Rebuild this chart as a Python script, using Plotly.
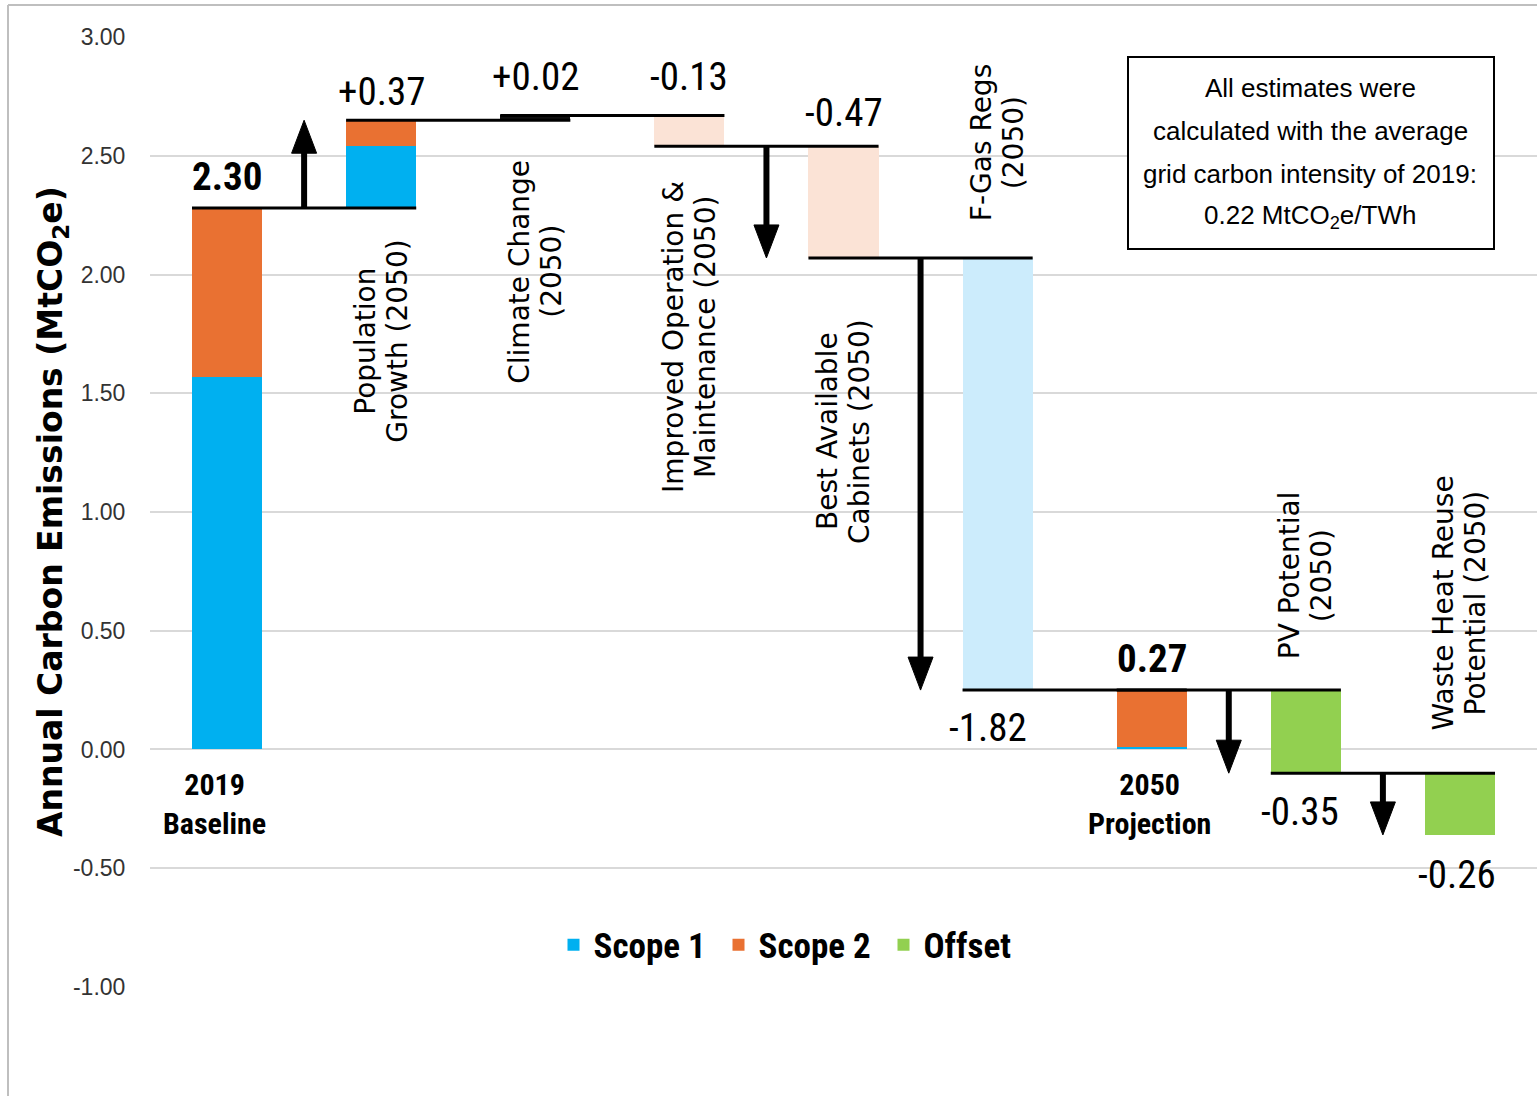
import plotly.graph_objects as go

# ---------------- data ----------------
categories = ["2019 Baseline", "Population Growth (2050)", "Climate Change (2050)",
              "Improved Operation & Maintenance (2050)", "Best Available Cabinets (2050)",
              "F-Gas Regs (2050)", "2050 Projection", "PV Potential (2050)",
              "Waste Heat Reuse Potential (2050)"]
is_total = [True, False, False, False, False, False, True, False, False]
scope1 = [1.57, 0.26, 0, 0, 0, 0, 0.01, 0, 0]
scope2 = [0.71, 0.11, 0, 0, 0, 0, 0.24, 0, 0]
measures = [0, 0, 0.02, -0.13, -0.47, -1.82, 0, 0, 0]
offset = [0, 0, 0, 0, 0, 0, 0, -0.35, -0.26]
value_labels = ["2.30", "+0.37", "+0.02", "-0.13", "-0.47", "-1.82", "0.27", "-0.35", "-0.26"]
arrow_bars = [1, 4, 5, 7, 8]
y_ticks = [-1.0, -0.5, 0.0, 0.5, 1.0, 1.5, 2.0, 2.5, 3.0]
y_ticktext = ["-1.00", "-0.50", "0.00", "0.50", "1.00", "1.50", "2.00", "2.50", "3.00"]

cat_labels = {
    1: ["Population", "Growth (2050)"],
    2: ["Climate Change", "(2050)"],
    3: ["Improved Operation &", "Maintenance (2050)"],
    4: ["Best Available", "Cabinets (2050)"],
    5: ["F-Gas Regs", "(2050)"],
    7: ["PV Potential", "(2050)"],
    8: ["Waste Heat Reuse", "Potential (2050)"],
}
total_labels = {0: "2019<br>Baseline", 6: "2050<br>Projection"}
note_lines = ["All estimates were", "calculated with the average",
              "grid carbon intensity of 2019:", "0.22 MtCO<sub>2</sub>e/TWh"]

# ---------------- styles ----------------
W, H = 1537, 1096
ML, MR, MT, MB = 150, 0, 37, 109
PW, PH = W - ML - MR, H - MT - MB
YMIN, YMAX = -1.0, 3.0
n = len(categories)
PXX = n / PW             # data units per px (x)
PXY = (YMAX - YMIN) / PH  # data units per px (y)
BW = 0.455
C_S1, C_S2, C_OFF = "#00B0F0", "#E97132", "#92D050"
measure_colors = {2: "#111111", 3: "#FBE3D6", 4: "#FBE3D6", 5: "#CCECFC"}
NARROW = "Liberation Sans Narrow, Arial Narrow, Roboto Condensed, DejaVu Sans Condensed, sans-serif"
REG = "Liberation Sans, Arial, sans-serif"
WIDE = "DejaVu Sans, Verdana, sans-serif"

# value label placement: side and pixel offset
label_side = ["above", "above", "above", "above", "above", "below", "above", "below", "below"]
label_shift = [31, 28, 38, 38, 33, -38, 31, -39, -40]
label_xshift = [0, 0, 0, 0, 0, -10, 0, -6, -3]
label_bold = [True, False, False, False, False, False, True, False, False]
cat_label_y = {1: 1.718, 2: 2.013, 3: 1.739, 4: 1.339, 5: 2.556, 7: 0.733, 8: 0.619}

# ---------------- waterfall levels ----------------
start, end = [], []
level = 0.0
for i in range(n):
    s = 0.0 if is_total[i] else level
    e = s + scope1[i] + scope2[i] + measures[i] + offset[i]
    start.append(s)
    end.append(e)
    level = e

fig = go.Figure()

idx1 = [i for i in range(n) if scope1[i]]
fig.add_trace(go.Bar(name="Scope 1", x=idx1, y=[scope1[i] for i in idx1],
                     base=[start[i] for i in idx1], width=BW,
                     marker=dict(color=C_S1, line=dict(width=0)),
                     customdata=[categories[i] for i in idx1],
                     hovertemplate="%{customdata}<br>Scope 1: %{y:.2f}<extra></extra>"))
idx2 = [i for i in range(n) if scope2[i]]
fig.add_trace(go.Bar(name="Scope 2", x=idx2, y=[scope2[i] for i in idx2],
                     base=[start[i] + scope1[i] for i in idx2], width=BW,
                     marker=dict(color=C_S2, line=dict(width=0)),
                     customdata=[categories[i] for i in idx2],
                     hovertemplate="%{customdata}<br>Scope 2: %{y:.2f}<extra></extra>"))
idx3 = [i for i in range(n) if offset[i]]
fig.add_trace(go.Bar(name="Offset", x=idx3, y=[offset[i] for i in idx3],
                     base=[start[i] for i in idx3], width=BW,
                     marker=dict(color=C_OFF, line=dict(width=0)),
                     customdata=[categories[i] for i in idx3],
                     hovertemplate="%{customdata}<br>Offset: %{y:.2f}<extra></extra>"))
idx4 = [i for i in range(n) if measures[i]]
fig.add_trace(go.Bar(name="Change", x=idx4, y=[measures[i] for i in idx4],
                     base=[start[i] for i in idx4], width=BW, showlegend=False,
                     marker=dict(color=[measure_colors[i] for i in idx4], line=dict(width=0)),
                     customdata=[categories[i] for i in idx4],
                     hovertemplate="%{customdata}<br>%{y:.2f}<extra></extra>"))

shapes = []
# connectors
for i in range(n - 1):
    shapes.append(dict(type="line", xref="x", yref="y", x0=i - BW / 2, x1=i + 1 + BW / 2,
                       y0=end[i], y1=end[i], line=dict(color="black", width=3), layer="above"))
# arrows
head_len = 33 * PXY
head_hw = 12.5 * PXX
for i in arrow_bars:
    xa = i - 0.5
    s, e = start[i], end[i]
    d = 1 if e > s else -1
    shapes.append(dict(type="line", xref="x", yref="y", x0=xa, x1=xa, y0=s,
                       y1=e - d * head_len * 0.9, line=dict(color="black", width=6), layer="above"))
    yb = e - d * head_len
    shapes.append(dict(type="path", xref="x", yref="y",
                       path=f"M{xa - head_hw},{yb} L{xa + head_hw},{yb} L{xa},{e} Z",
                       fillcolor="black", line=dict(color="black", width=1), layer="above"))
# frame
fx = (8 - ML) / PW
fy = 1 + (MT - 5) / PH
shapes.append(dict(type="line", xref="paper", yref="paper", x0=fx, x1=1.01, y0=fy, y1=fy,
                   line=dict(color="#BFBFBF", width=2)))
shapes.append(dict(type="line", xref="paper", yref="paper", x0=fx, x1=fx, y0=fy, y1=-0.2,
                   line=dict(color="#BFBFBF", width=2)))
# note box
shapes.append(dict(type="rect", xref="paper", yref="paper",
                   x0=(1128 - ML) / PW, x1=(1494 - ML) / PW,
                   y0=(H - MB - 249) / PH, y1=(H - MB - 57) / PH,
                   line=dict(color="black", width=2), fillcolor="white"))

ann = []
for i in range(n):
    if label_side[i] == "above":
        yv = max(start[i], end[i])
    else:
        yv = min(start[i], end[i])
    ann.append(dict(x=i, y=yv, xref="x", yref="y", text=value_labels[i], showarrow=False,
                    xanchor="center", yanchor="middle", yshift=label_shift[i],
                    xshift=label_xshift[i],
                    font=dict(family=NARROW, size=39, color="black",
                              weight="bold" if label_bold[i] else "normal")))
for i, lines in cat_labels.items():
    for k, t in enumerate(lines):
        ann.append(dict(x=i, y=cat_label_y[i], xref="x", yref="y", text=t, showarrow=False,
                        textangle=-90, xanchor="center", yanchor="middle", align="center",
                        xshift=-16 + 32 * k,
                        font=dict(family=WIDE, size=28, color="black")))
for i, t in total_labels.items():
    ann.append(dict(x=i, y=0, xref="x", yref="y", text=t, showarrow=False,
                    xanchor="center", yanchor="middle", yshift=-55, xshift=-13 if i == 0 else -2,
                    font=dict(family=NARROW, size=30, color="black", weight="bold")))
note_y = [88, 131, 174, 216]
for t, py in zip(note_lines, note_y):
    ann.append(dict(x=(1310 - ML) / PW, y=(H - MB - py) / PH, xref="paper", yref="paper",
                    text=t, showarrow=False, xanchor="center", yanchor="middle",
                    font=dict(family=REG, size=26, color="black")))
ann.append(dict(x=(52 - ML) / PW, y=0.5, xref="paper", yref="paper",
                text="Annual Carbon Emissions (MtCO<sub>2</sub>e)", showarrow=False,
                textangle=-90, xanchor="center", yanchor="middle",
                font=dict(family=WIDE, size=33, color="black", weight="bold")))

fig.update_layout(
    width=W, height=H, margin=dict(l=ML, r=MR, t=MT, b=MB),
    paper_bgcolor="white", plot_bgcolor="white",
    barmode="overlay", bargap=0,
    shapes=shapes, annotations=ann,
    showlegend=True,
    legend=dict(orientation="h", x=(801 - ML) / PW, y=(H - MB - 945) / PH,
                xanchor="center", yanchor="middle", entrywidth=120,
                font=dict(family=NARROW, size=35, color="black", weight="bold"),
                traceorder="normal", bgcolor="rgba(0,0,0,0)"),
    xaxis=dict(range=[-0.5, n - 0.5], showticklabels=False, showgrid=False,
               zeroline=False, showline=False, fixedrange=True),
    yaxis=dict(range=[YMIN - 0.0005, YMAX + 0.0005], tickvals=y_ticks, ticktext=y_ticktext,
               showgrid=True, gridcolor="#D9D9D9", gridwidth=2, zeroline=False,
               showline=False, ticks="outside", ticklen=19, tickcolor="rgba(0,0,0,0)",
               tickfont=dict(family=REG, size=23, color="#333333")),
)

fig.write_html("out.html")
